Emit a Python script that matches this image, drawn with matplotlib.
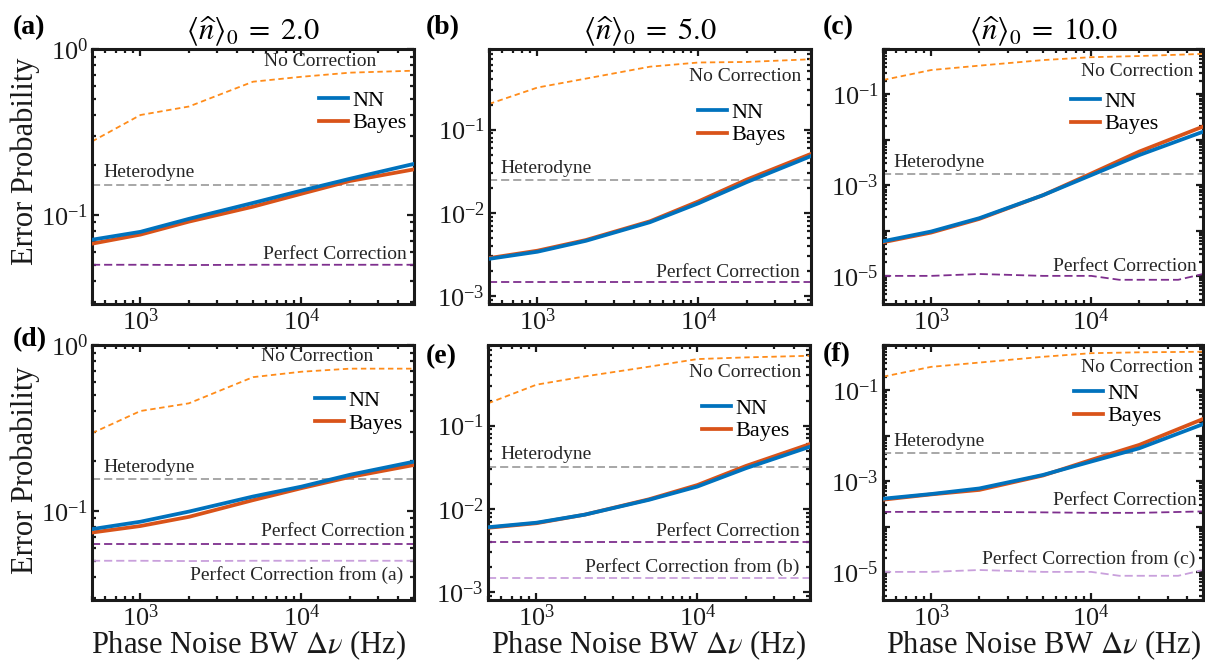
import matplotlib
matplotlib.use('Agg')
import matplotlib.pyplot as plt
from matplotlib.ticker import LogLocator, FixedLocator, FuncFormatter, NullFormatter
import numpy as np

plt.rcParams['font.family'] = ['Liberation Serif', 'DejaVu Serif']
plt.rcParams['mathtext.fontset'] = 'stix'

# ---------------- data ----------------
bw = [500, 1000, 2000, 5000, 10000, 20000, 50000]          # phase-noise bandwidth (Hz)
bw_pc = [500, 1000, 2000, 5000, 10000, 15000, 35000, 50000]  # sampling of the n0=10 perfect-correction curve

titles = [r'$\langle\widehat{n}\rangle_0\;=\;2.0$', r'$\langle\widehat{n}\rangle_0\;=\;5.0$',
          r'$\langle\widehat{n}\rangle_0\;=\;10.0$']
panel_tags = ['(a)', '(b)', '(c)', '(d)', '(e)', '(f)']

# (a) n0 = 2
nn_a = [0.0708, 0.079, 0.0946, 0.118, 0.140, 0.165, 0.203]
bayes_a = [0.067, 0.076, 0.091, 0.112, 0.134, 0.160, 0.188]
nocorr_a = [0.277, 0.40, 0.45, 0.635, 0.68, 0.72, 0.74]
het_a = 0.151
perf_a = [0.050, 0.050, 0.0498, 0.050, 0.050, 0.050, 0.050]

# (b) n0 = 5
nn_b = [0.00279, 0.0034, 0.0046, 0.0077, 0.0130, 0.0234, 0.048]
bayes_b = [0.00285, 0.0035, 0.0047, 0.0079, 0.0137, 0.0251, 0.051]
nocorr_b = [0.203, 0.32, 0.41, 0.57, 0.64, 0.65, 0.70]
het_b = 0.0248
perf_b = [0.00146, 0.00146, 0.00146, 0.00146, 0.00146, 0.00146, 0.00146]

# (c) n0 = 10
nn_c = [5.8e-5, 9.5e-5, 1.87e-4, 6.0e-4, 1.66e-3, 4.6e-3, 0.015]
bayes_c = [5.5e-5, 9.0e-5, 1.8e-4, 6.0e-4, 1.8e-3, 5.5e-3, 0.0195]
nocorr_c = [0.207, 0.344, 0.43, 0.57, 0.66, 0.70, 0.78]
het_c = 0.0018
perf_c = [1.0e-5, 1.0e-5, 1.1e-5, 1.0e-5, 1.0e-5, 8.2e-6, 8.2e-6, 1.1e-5]

# (d) n0 = 2, second model
nn_d = [0.0776, 0.086, 0.099, 0.122, 0.140, 0.165, 0.198]
bayes_d = [0.074, 0.081, 0.092, 0.116, 0.137, 0.160, 0.189]
nocorr_d = [0.294, 0.40, 0.445, 0.64, 0.69, 0.72, 0.72]
het_d = 0.155
perf_d = [0.063, 0.063, 0.063, 0.063, 0.063, 0.063, 0.063]

# (e) n0 = 5, second model
nn_e = [0.0060, 0.0068, 0.0085, 0.0128, 0.0185, 0.0307, 0.0557]
bayes_e = [0.0059, 0.0067, 0.0085, 0.0130, 0.0193, 0.0327, 0.060]
nocorr_e = [0.185, 0.31, 0.39, 0.51, 0.63, 0.66, 0.69]
het_e = 0.0316
perf_e = [0.0040, 0.0040, 0.0040, 0.0040, 0.0040, 0.0040, 0.0040]

# (f) n0 = 10, second model
nn_f = [4.1e-4, 5.2e-4, 6.9e-4, 1.37e-3, 2.7e-3, 5.3e-3, 0.018]
bayes_f = [3.9e-4, 5.1e-4, 6.4e-4, 1.33e-3, 2.94e-3, 6.3e-3, 0.0234]
nocorr_f = [0.20, 0.33, 0.41, 0.55, 0.66, 0.69, 0.71]
het_f = 0.0041
perf_f = [2.1e-4, 2.1e-4, 2.1e-4, 2.05e-4, 2.0e-4, 2.0e-4, 2.15e-4]

y_limits = [(0.029, 1.0), (8e-4, 0.93), (2.4e-6, 1.0),
            (0.029, 1.0), (8e-4, 0.93), (2.4e-6, 1.0)]

# ---------------- styling ----------------
C_NN = '#0072BD'
C_BAYES = '#D95319'
C_NOCORR = '#FF8C1A'
C_HET = '#A0A0A0'
C_PERF = '#7E2F8E'
C_PERF_PREV = '#C9A0DC'
TXT = '#262626'

W, H = 1205, 662
fig = plt.figure(figsize=(W / 100, H / 100), dpi=100)


def rect(l, t, r, b):
    return [l / W, 1 - b / H, (r - l) / W, (b - t) / H]


rects = [rect(92, 49, 414, 304), rect(489, 49, 811, 304), rect(883, 49, 1203, 304),
         rect(92, 345, 414, 600), rect(488, 345, 810, 600), rect(883, 345, 1203, 600)]

panels = [
    dict(nn=nn_a, bayes=bayes_a, nocorr=nocorr_a, het=het_a, perf=perf_a, perf_x=bw, prev=None),
    dict(nn=nn_b, bayes=bayes_b, nocorr=nocorr_b, het=het_b, perf=perf_b, perf_x=bw, prev=None),
    dict(nn=nn_c, bayes=bayes_c, nocorr=nocorr_c, het=het_c, perf=perf_c, perf_x=bw_pc, prev=None),
    dict(nn=nn_d, bayes=bayes_d, nocorr=nocorr_d, het=het_d, perf=perf_d, perf_x=bw,
         prev=(bw, perf_a, 'Perfect Correction from (a)')),
    dict(nn=nn_e, bayes=bayes_e, nocorr=nocorr_e, het=het_e, perf=perf_e, perf_x=bw,
         prev=(bw, perf_b, 'Perfect Correction from (b)')),
    dict(nn=nn_f, bayes=bayes_f, nocorr=nocorr_f, het=het_f, perf=perf_f, perf_x=bw,
         prev=(bw_pc, perf_c, 'Perfect Correction from (c)')),
]

# text placement (axes fraction): (x, y, ha)
nocorr_pos = [(0.534, 0.95, 'left'), (0.969, 0.894, 'right'), (0.969, 0.91, 'right'),
              (0.873, 0.953, 'right'), (0.972, 0.891, 'right'), (0.969, 0.911, 'right')]
het_pos = [(0.034, 0.514), (0.034, 0.533), (0.031, 0.553),
           (0.034, 0.52), (0.037, 0.569), (0.031, 0.621)]
perf_pos = [(0.978, 0.196), (0.966, 0.125), (0.98, 0.149),
            (0.972, 0.268), (0.969, 0.268), (0.98, 0.392)]
prev_pos = [None, None, None, (0.966, 0.098), (0.966, 0.131), (0.975, 0.16)]
leg_pos = [(0.705, 0.839), (0.649, 0.792), (0.5875, 0.835),
           (0.693, 0.821), (0.665, 0.792), (0.597, 0.851)]

dash_short = (3, 2)
dash_long = (4.5, 2.2)

for i, (p, r) in enumerate(zip(panels, rects)):
    ax = fig.add_axes(r)
    ax.set_xscale('log')
    ax.set_yscale('log')

    ax.plot(bw, p['nocorr'], color=C_NOCORR, lw=1.3, dashes=dash_short)
    ax.axhline(p['het'], color=C_HET, lw=1.3, dashes=dash_long)
    ax.plot(p['perf_x'], p['perf'], color=C_PERF, lw=1.3, dashes=dash_long)
    if p['prev'] is not None:
        px, py, _ = p['prev']
        ax.plot(px, py, color=C_PERF_PREV, lw=1.3, dashes=dash_long)
    hb, = ax.plot(bw, p['bayes'], color=C_BAYES, lw=2.7, label='Bayes', zorder=4)
    hn, = ax.plot(bw, p['nn'], color=C_NN, lw=2.7, label='NN', zorder=5)

    ax.set_xlim(500, 50000)
    ax.set_ylim(*y_limits[i])

    # ticks
    ax.xaxis.set_major_locator(FixedLocator([1e3, 1e4]))
    ax.xaxis.set_minor_locator(LogLocator(base=10, subs=np.arange(2, 10), numticks=100))
    ax.xaxis.set_minor_formatter(NullFormatter())
    if i % 3 == 2:
        ax.yaxis.set_major_locator(FixedLocator([10.0 ** k for k in range(-6, 1)]))
        ax.yaxis.set_major_formatter(FuncFormatter(
            lambda v, pos: (r'$\mathdefault{10^{%d}}$' % round(np.log10(v)))
            if round(np.log10(v)) % 2 != 0 else ''))
    else:
        ax.yaxis.set_major_locator(FixedLocator([10.0 ** k for k in range(-4, 1)]))
        ax.yaxis.set_major_formatter(FuncFormatter(
            lambda v, pos: r'$\mathdefault{10^{%d}}$' % round(np.log10(v))))
    ax.xaxis.set_major_formatter(FuncFormatter(
        lambda v, pos: r'$\mathdefault{10^{%d}}$' % round(np.log10(v))))
    ax.yaxis.set_minor_locator(LogLocator(base=10, subs=np.arange(2, 10), numticks=100))
    ax.yaxis.set_minor_formatter(NullFormatter())

    for sp in ax.spines.values():
        sp.set_linewidth(2.2)
        sp.set_color('#1a1a1a')
    ax.tick_params(which='both', direction='in', top=True, right=True, width=1.6,
                   labelsize=19, pad=3, colors='#1a1a1a')
    ax.tick_params(which='major', length=5)
    ax.tick_params(which='minor', length=3)

    # annotations
    tx, ty, tha = nocorr_pos[i]
    ax.text(tx, ty, 'No Correction', transform=ax.transAxes, ha=tha, va='center',
            fontsize=14, color=TXT)
    ax.text(het_pos[i][0], het_pos[i][1], 'Heterodyne', transform=ax.transAxes,
            ha='left', va='center', fontsize=14, color=TXT)
    ax.text(perf_pos[i][0], perf_pos[i][1], 'Perfect Correction', transform=ax.transAxes,
            ha='right', va='center', fontsize=14, color=TXT)
    if p['prev'] is not None:
        ax.text(prev_pos[i][0], prev_pos[i][1], p['prev'][2], transform=ax.transAxes,
                ha='right', va='center', fontsize=14, color=TXT)

    ax.legend(handles=[hn, hb], loc='upper left', bbox_to_anchor=leg_pos[i],
              frameon=False, fontsize=16, handlelength=1.3, handletextpad=0.2,
              labelspacing=0.1, borderpad=0, borderaxespad=0)

    if i < 3:
        ax.set_title(titles[i], fontsize=22, pad=3)

# panel tags
tag_xy = [(13, 28), (426, 28), (823, 28), (13, 340), (426, 357), (823, 355)]
for tag, (x, y) in zip(panel_tags, tag_xy):
    fig.text(x / W, 1 - y / H, tag, fontsize=20, fontweight='bold', ha='left', va='center')

# axis labels
fig.text(25 / W, 1 - 161 / H, 'Error Probability', rotation=90, ha='center', va='center',
         fontsize=22, color='#1a1a1a')
fig.text(25 / W, 1 - 470 / H, 'Error Probability', rotation=90, ha='center', va='center',
         fontsize=22, color='#1a1a1a')
for cx in (248, 648, 1043):
    fig.text(cx / W, 1 - 645 / H, r'Phase Noise BW $\Delta\nu$ (Hz)', ha='center', va='center',
             fontsize=22, color='#1a1a1a')

fig.savefig('out.png', dpi=100)
